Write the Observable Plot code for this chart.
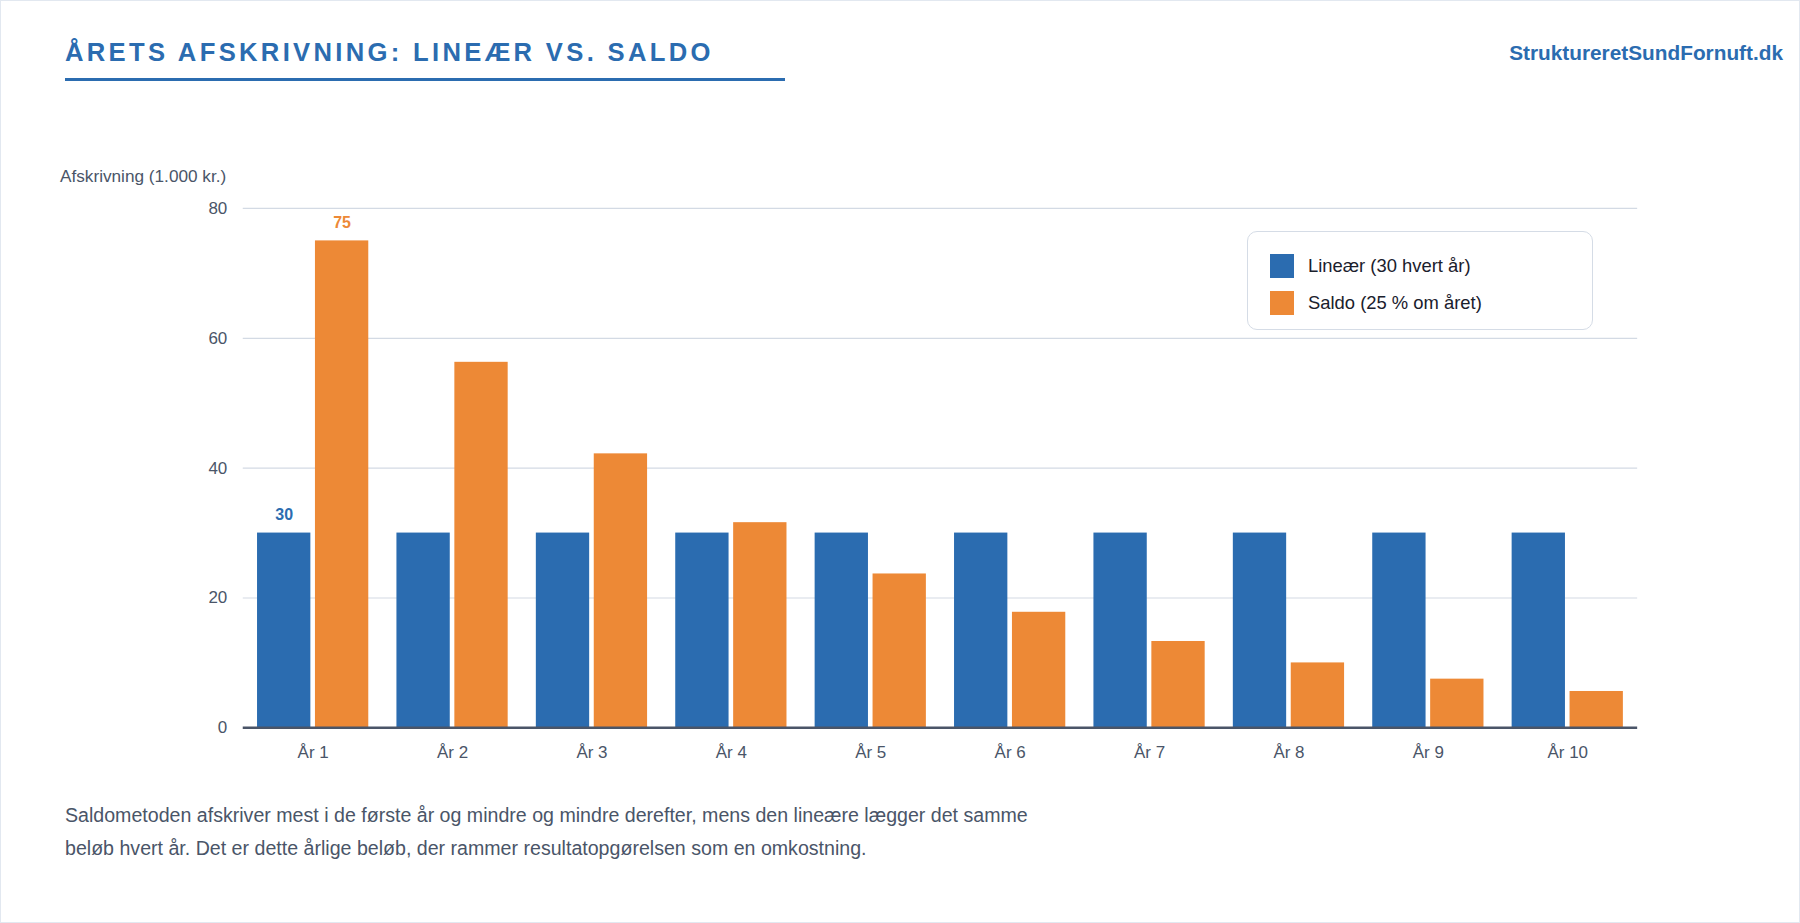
<!DOCTYPE html>
<html><head><meta charset="utf-8">
<script src="https://cdn.jsdelivr.net/npm/d3@7"></script>
<script src="https://cdn.jsdelivr.net/npm/@observablehq/plot@0.6"></script>
<style>
html,body{margin:0;padding:0;background:#fff;}
body{font-family:"Liberation Sans",Arial,sans-serif;}
#page{position:relative;width:1798px;height:921px;border:1px solid #e2e8f0;overflow:hidden;}
#title{position:absolute;left:64px;top:35px;width:720px;height:42px;border-bottom:3.5px solid #2b6cb0;color:#2b6cb0;font-weight:bold;font-size:25.6px;letter-spacing:0.13em;line-height:32px;white-space:nowrap;}
#site{position:absolute;right:16px;top:40px;color:#2b6cb0;font-weight:bold;font-size:20.8px;line-height:24px;}
#ylab{position:absolute;left:59px;top:165px;color:#4a5568;font-size:17.2px;line-height:20px;}
#chart{position:absolute;left:0;top:150px;}
#legend{position:absolute;left:1246px;top:230px;width:344px;height:97px;border:1.5px solid #d5dce6;border-radius:10px;background:#fff;}
.row{position:absolute;left:22px;display:flex;align-items:center;font-size:18.4px;color:#1a202c;}
.sw{width:24px;height:24px;margin-right:14px;}
#caption{position:absolute;left:64px;top:798px;color:#4a5568;font-size:19.6px;line-height:33px;white-space:nowrap;}
</style></head>
<body>
<div id="page">
  <div id="title">ÅRETS AFSKRIVNING: LINEÆR VS. SALDO</div>
  <div id="site">StruktureretSundFornuft.dk</div>
  <div id="ylab">Afskrivning (1.000 kr.)</div>
  <div id="chart"></div>
  <div id="legend"></div>
  <div id="caption">Saldometoden afskriver mest i de første år og mindre og mindre derefter, mens den lineære lægger det samme<br>beløb hvert år. Det er dette årlige beløb, der rammer resultatopgørelsen som en omkostning.</div>
</div>
<script>
const years = ["År 1","År 2","År 3","År 4","År 5","År 6","År 7","År 8","År 9","År 10"];
const linear = [30,30,30,30,30,30,30,30,30,30];
const saldo = [75,56.3,42.2,31.6,23.7,17.8,13.3,10.0,7.5,5.6];
const seriesNames = ["Lineær (30 hvert år)","Saldo (25 % om året)"];
const seriesColors = ["#2b6cb0","#ed8936"];
const yTicks = [0,20,40,60,80];
const labelled = [{year:"År 1", value:30, s:0},{year:"År 1", value:75, s:1}];

const W = 1800, H = 620, mL = 242, mR = 162, mT = 57, mB = 43;
const padIn = 0.202, padOut = 0.1025;
const step = (W - mL - mR) / (years.length - padIn + 2*padOut);
const bw = step * (1 - padIn);
const gap = 4.6;
const barW = (bw - gap) / 2;
const inset = bw - barW;
const off = bw/2 - barW/2;

const linRows = years.map((y,i)=>({year:y, value:linear[i]}));
const salRows = years.map((y,i)=>({year:y, value:saldo[i]}));

const plot = Plot.plot({
  width: W, height: H,
  marginLeft: mL, marginRight: mR, marginTop: mT, marginBottom: mB,
  style: {fontFamily: '"Liberation Sans", Arial, sans-serif', background: "transparent"},
  x: {domain: years, paddingInner: padIn, paddingOuter: padOut, round: false, label: null},
  y: {domain: [0,80], label: null},
  marks: [
    Plot.ruleY(yTicks.filter(d=>d>0), {stroke: "#d3dae4", strokeWidth: 1.2}),
    Plot.barY(linRows, {x: "year", y: "value", fill: seriesColors[0], insetRight: inset}),
    Plot.barY(salRows, {x: "year", y: "value", fill: seriesColors[1], insetLeft: inset}),
    Plot.ruleY([0], {stroke: "#4a5568", strokeWidth: 2.5}),
    Plot.text(labelled.filter(d=>d.s===0), {x: "year", y: "value", text: d=>String(d.value), dx: -off, dy: -18, fill: seriesColors[0], fontWeight: "bold", fontSize: 16}),
    Plot.text(labelled.filter(d=>d.s===1), {x: "year", y: "value", text: d=>String(d.value), dx: off, dy: -18, fill: seriesColors[1], fontWeight: "bold", fontSize: 16}),
    Plot.axisY({ticks: yTicks, tickSize: 0, tickPadding: 16, fontSize: 17, color: "#4a5568", label: null}),
    Plot.axisX({tickSize: 0, tickPadding: 18, fontSize: 17, color: "#4a5568", label: null})
  ]
});
document.getElementById("chart").appendChild(plot);

const lg = document.getElementById("legend");
const tops = [22, 59];
seriesNames.forEach((n,i)=>{
  const r = document.createElement("div");
  r.className = "row"; r.style.top = tops[i] + "px";
  r.innerHTML = `<div class="sw" style="background:${seriesColors[i]}"></div><span>${n}</span>`;
  lg.appendChild(r);
});
</script>
</body></html>
